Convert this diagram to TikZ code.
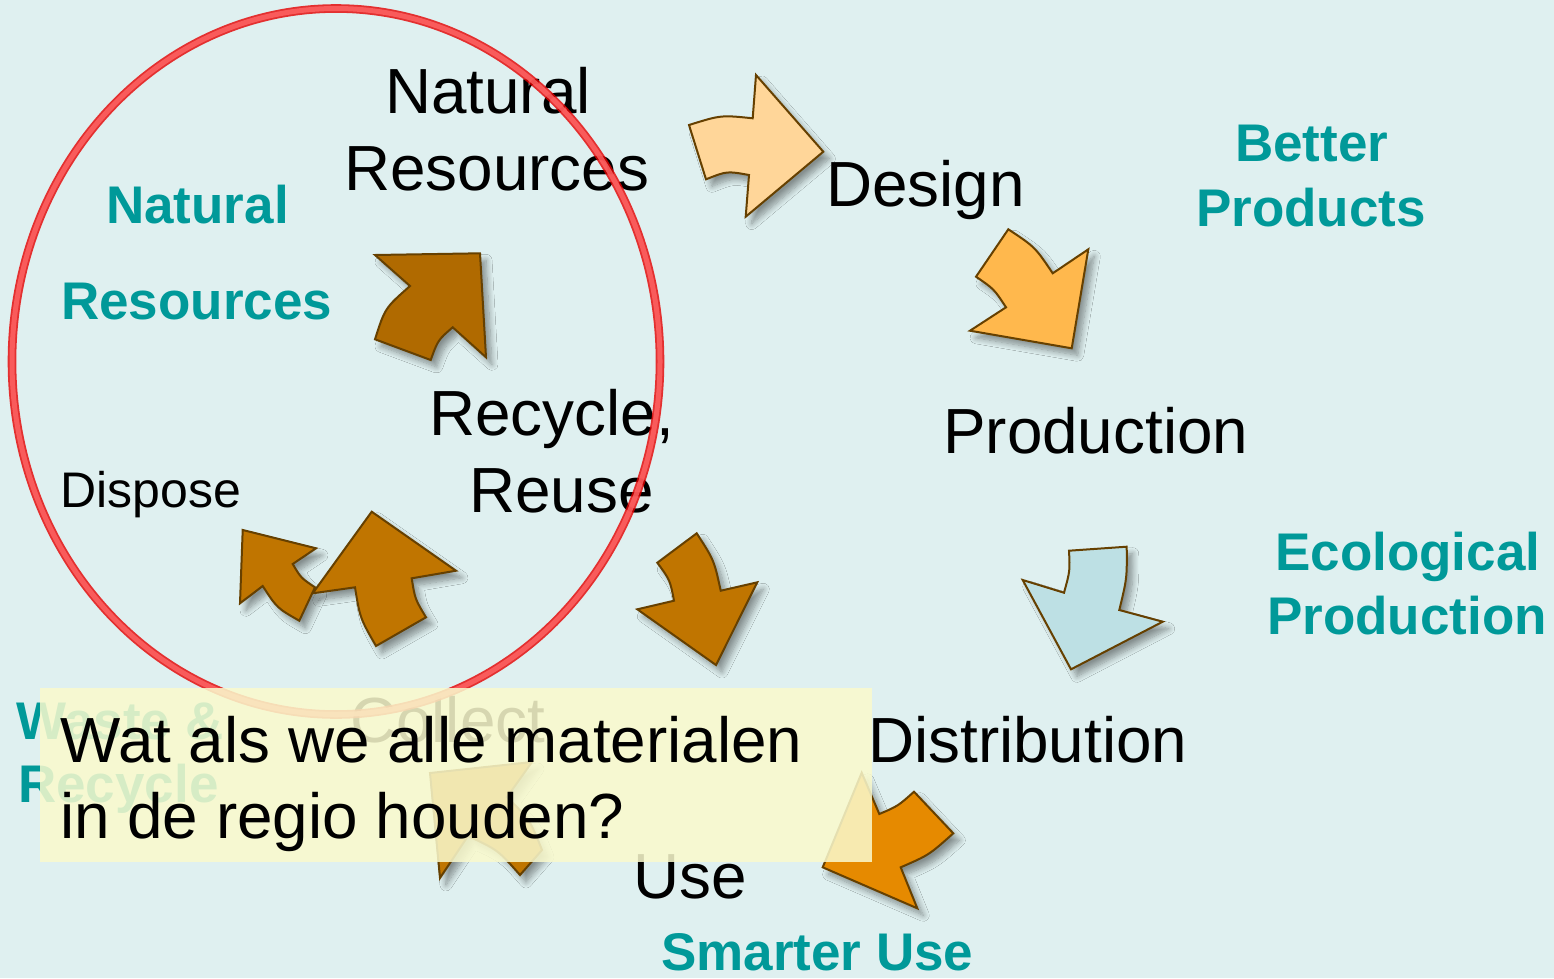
\documentclass[tikz,border=0pt]{standalone}
\usepackage{fontspec}
\setmainfont{Liberation Sans}
\usetikzlibrary{shadows.blur}
\definecolor{bg}{RGB}{223,240,240}
\definecolor{tealtxt}{RGB}{0,153,153}
\definecolor{arrline}{RGB}{102,64,0}
\definecolor{peach}{RGB}{255,214,153}
\definecolor{orangeA}{RGB}{255,184,77}
\definecolor{blueA}{RGB}{189,224,228}
\definecolor{brownA}{RGB}{176,106,0}
\definecolor{brownB}{RGB}{192,117,0}
\definecolor{orangeB}{RGB}{230,138,0}
\definecolor{boxfill}{RGB}{250,250,205}
\begin{document}
\begin{tikzpicture}[x=1pt,y=-1pt,
  lbl/.style={inner sep=0pt, anchor=base west, font=\fontsize{63.8}{76}\selectfont},
  small/.style={inner sep=0pt, anchor=base west, font=\fontsize{50}{60}\selectfont},
  tl/.style={inner sep=0pt, anchor=base west, text=tealtxt, font=\fontsize{53}{63}\selectfont\bfseries},
  blk/.style={draw=arrline, line width=2pt, line join=miter,
    blur shadow={shadow xshift=6pt, shadow yshift=-7pt, shadow blur steps=10, shadow blur radius=6pt, shadow opacity=40}}]
\useasboundingbox (0,0) rectangle (1554,978);
\fill[bg] (0,0) rectangle (1554,978);

% black labels
\node[lbl] (nr1) at (385,113) {Natural};
\node[lbl] (nr2) at (344,190) {Resources};
\node[lbl] (design) at (826,206) {Design};
\node[lbl] (prod) at (943,453) {Production};
\node[lbl] (distr) at (868,762) {Distribution};
\node[lbl] (use) at (633,898) {Use};
\node[lbl] (rec1) at (429,435) {Recycle,};
\node[lbl] (rec2) at (469,512) {Reuse};
\node[small] (dispose) at (60,507) {Dispose};
\node[lbl] (collect) at (350,742) {Collect};

% teal labels
\node[tl] (tn1) at (106,223) {Natural};
\node[tl] (tn2) at (61,319) {Resources};
\node[tl] (bp1) at (1235,161) {Better};
\node[tl] (bp2) at (1196,226) {Products};
\node[tl] (ep1) at (1275,570) {Ecological};
\node[tl] (ep2) at (1267,634) {Production};
\node[tl] (su) at (661,970) {Smarter Use};
\node[tl] (wr1) at (16,739) {Waste \&};
\node[tl] (wr2) at (18,802) {Recycle};

% block arrows
\draw[blk, fill=peach] (689,125) .. controls (721,115) .. (752.7,118.3) -- (756,75) -- (823.3,151.7)
  -- (745.7,216.7) -- (749,175) .. controls (727,171) .. (706,179.3) -- cycle;
\draw[blk, fill=orangeA] (1008.3,229.3) .. controls (1035,247) .. (1052.7,273.3) -- (1088.3,249.3)
  -- (1071.7,348.3) -- (970,330.7) -- (1006,307.3) .. controls (994,289) .. (976,276.7) -- cycle;
\draw[blk, fill=blueA] (1069,550.7) -- (1126.7,546.7) .. controls (1127,578) .. (1119.3,610)
  -- (1162.7,621.7) -- (1071,669.3) -- (1022.7,580) -- (1064,592.7) .. controls (1070,571) .. cycle;
\draw[blk, fill=brownA] (375,255) -- (480,253.3) -- (486,357.3) -- (452.7,327.3)
  .. controls (438,340) .. (430.7,360) -- (375,339.3) .. controls (385,308) .. (410,286) -- cycle;
\draw[blk, fill=brownB] (242.7,530) -- (316,548.3) -- (292.7,564) .. controls (301,578) .. (315,587.3)
  -- (299.3,620.7) .. controls (277,608) .. (262.7,586) -- (240,603.3) -- cycle;
\draw[blk, fill=brownB] (371.7,511.7) -- (456,570.7) -- (411.7,578.3) .. controls (415,599) .. (426,617.3)
  -- (376,646) .. controls (360,618) .. (355,587.3) -- (312.7,593.3) -- cycle;
\draw[blk, fill=brownB] (696.7,533.3) .. controls (714,560) .. (720.7,590.7) -- (757.3,582.3)
  -- (716,665) -- (637.3,609.3) -- (674,600.7) .. controls (670,580) .. (657.3,562.7) -- cycle;
\draw[blk, fill=orangeB] (914,791.7) -- (953.3,833.3) .. controls (929,855) .. (900.7,867.3)
  -- (917.3,908.3) -- (822.7,867.3) -- (861.7,772.7) -- (879.3,814) .. controls (898,806) .. cycle;
\draw[blk, fill=brownB] (430,773) -- (532,762) -- (507,797) .. controls (530,820) .. (542,850)
  -- (520,875) .. controls (498,850) .. (468,836) -- (440,878) -- cycle;

% red ring
\draw[draw=red!90!black, line width=1.8pt, double=red!60!white, double distance=5pt, opacity=0.8]
  (336,361.5) ellipse [x radius=324, y radius=353];

% yellow note
\node[fill=boxfill, fill opacity=0.86, inner sep=0pt, minimum width=832pt, minimum height=174pt, anchor=north west] (note) at (40,688) {};
\node[lbl] (q1) at (60,762) {Wat als we alle materialen};
\node[lbl] (q2) at (60,838) {in de regio houden?};
\end{tikzpicture}
\end{document}
